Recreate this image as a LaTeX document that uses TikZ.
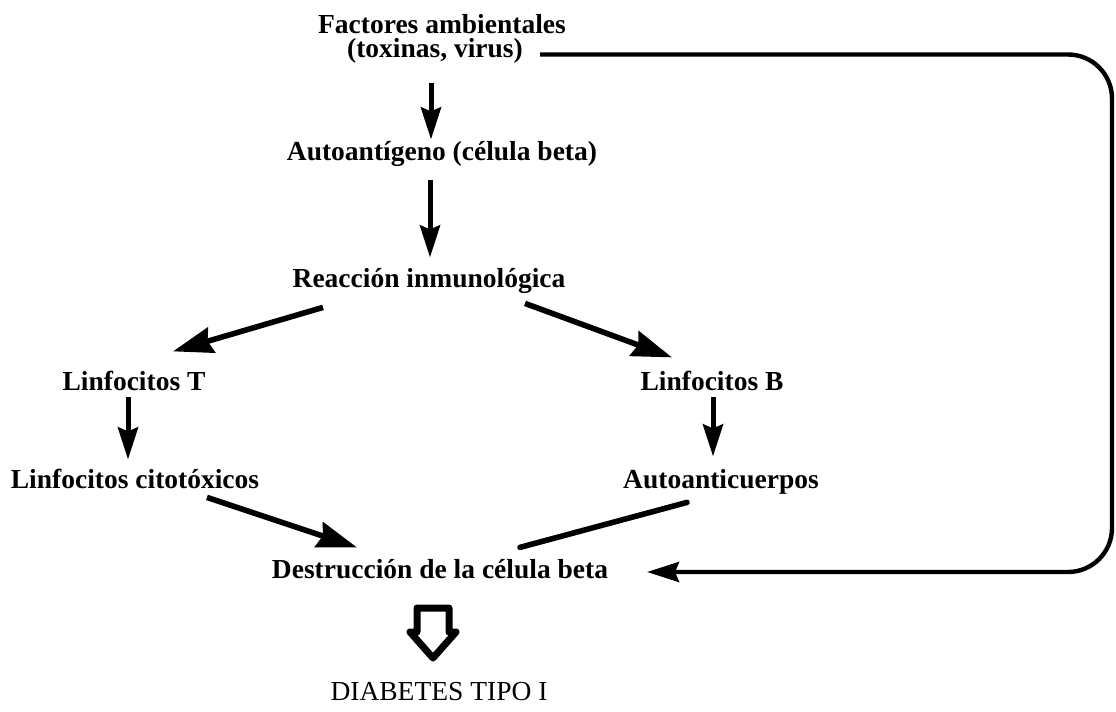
\documentclass[tikz,border=0pt]{standalone}
\usepackage{fontspec}
\setmainfont{Liberation Serif}
\usetikzlibrary{arrows.meta, calc}

\begin{document}
\begin{tikzpicture}[x=0.5pt, y=-0.5pt, >={Stealth[length=16pt, width=10pt, inset=2pt]},
  lbl/.style={font=\fontsize{13.75}{16}\selectfont\bfseries, inner sep=0pt, anchor=base, text height=9.6pt, text depth=3pt},
  arr/.style={->, line width=2.5pt},
  bigarr/.style={-{Stealth[length=20pt, width=13pt, inset=2pt]}, line width=2.8pt}]
\useasboundingbox (0,0) rectangle (1116,712);
% labels
\node[lbl] (fact) at (442, 33)   {Factores ambientales};
\node[lbl] (tox)  at (435, 57.5) {(toxinas, virus)};
\node[lbl] (auto) at (442,160)   {Autoantígeno (célula beta)};
\node[lbl] (reac) at (429,287)   {Reacción inmunológica};
\node[lbl] (linT) at (134,390)   {Linfocitos T};
\node[lbl] (linB) at (712,390)   {Linfocitos B};
\node[lbl] (cito) at (135,488)   {Linfocitos citotóxicos};
\node[lbl] (anti) at (721,488)   {Autoanticuerpos};
\node[lbl] (dest) at (440,578)   {Destrucción de la célula beta};
\node[lbl, font=\fontsize{13.75}{16}\selectfont] (diab) at (439,700) {DIABETES TIPO I};
% main chain
\draw[arr] ($(tox.south)+(-4,19)$) -- ($(auto.north)+(-11,-1)$);
\draw[arr] ($(auto.south)+(-12,14)$) -- ($(reac.north)+(1,-10)$);
% two branches
\draw[bigarr] ($(reac.south)+(-106,14)$) -- ($(linT.north)+(39,-19)$);
\draw[bigarr] ($(reac.south)+(96,10)$) -- ($(linB.north)+(-40,-13)$);
\draw[arr] ($(linT.south)+(-6,1)$) -- ($(cito.north)+(-7,-9)$);
\draw[arr] ($(linB.south)+(1,1)$) -- ($(anti.north)+(-8,-12)$);
\draw[bigarr] ($(cito.south)+(72,3)$) -- ($(dest.north)+(-83,-11)$);
\draw[line width=2.8pt, line cap=round] ($(anti.south)+(-34,8)$) -- ($(dest.north)+(80,-11)$);
% direct path from the environment
\coordinate (loopA) at ($(tox.base)+(105,-3)$);
\coordinate (loopB) at ($(dest.base)+(207,-6)$);
\draw[arr, line width=2.2pt, rounded corners=22pt] (loopA) -- ++(572,0) |- (loopB);
% hollow arrow to the result
\draw[line width=3.5pt, line join=round, shift={(433,608)}]
  (-16,0) -- (16,0) -- (16,24) -- (23,24) -- (0,50) -- (-23,24) -- (-16,24) -- cycle;
\end{tikzpicture}
\end{document}
